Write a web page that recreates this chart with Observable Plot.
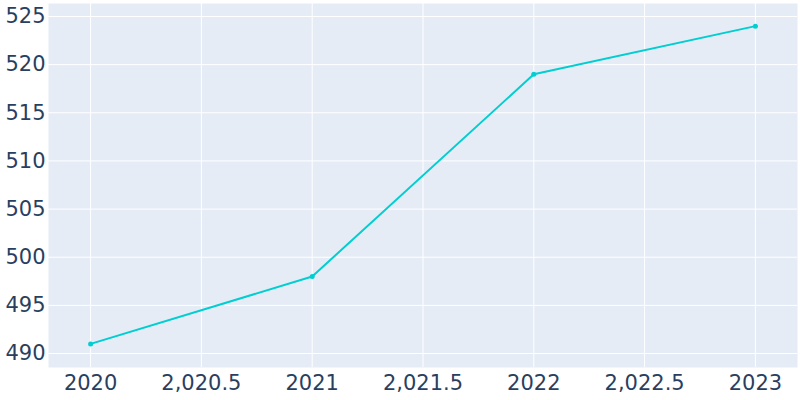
<!DOCTYPE html>
<html>
<head>
<meta charset="utf-8">
<script src="https://cdn.jsdelivr.net/npm/d3@7"></script>
<script src="https://cdn.jsdelivr.net/npm/@observablehq/plot@0.6"></script>
<style>
  html, body { margin: 0; padding: 0; background: #fff; }
  #chart svg { display: block; }
</style>
</head>
<body>
<div id="chart"></div>
<script>
const years = [2020, 2021, 2022, 2023];
const values = [491, 498, 519, 524];
const xTicks = [2020, 2020.5, 2021, 2021.5, 2022, 2022.5, 2023];
const xTickLabels = ["2020", "2,020.5", "2021", "2,021.5", "2022", "2,022.5", "2023"];
const yTicks = [490, 495, 500, 505, 510, 515, 520, 525];

const data = years.map((y, i) => ({year: y, value: values[i]}));
const xLabelMap = new Map(xTicks.map((t, i) => [t, xTickLabels[i]]));

const chart = Plot.plot({
  width: 800,
  height: 400,
  marginLeft: 48,
  marginRight: 3,
  marginTop: 3,
  marginBottom: 33,
  style: {fontFamily: "DejaVu Sans", fontSize: "18px", color: "#2a3f5f", background: "#fff"},
  x: {domain: [2019.81, 2023.19], ticks: xTicks, tickFormat: d => xLabelMap.get(d), label: null},
  y: {domain: [488.55, 526.35], ticks: yTicks, label: null},
  marks: [
    Plot.frame({fill: "#E5ECF6", stroke: null}),
    Plot.gridX(xTicks, {stroke: "#fff", strokeOpacity: 1, strokeWidth: 1}),
    Plot.gridY(yTicks, {stroke: "#fff", strokeOpacity: 1, strokeWidth: 1}),
    Plot.axisX(xTicks, {tickSize: 0, tickPadding: 8, fontSize: 21, fill: "#2a3f5f", tickFormat: d => xLabelMap.get(d)}),
    Plot.axisY(yTicks, {tickSize: 0, tickPadding: 3, fontSize: 21, fill: "#2a3f5f"}),
    Plot.line(data, {x: "year", y: "value", stroke: "#00CED1", strokeWidth: 2}),
    Plot.dot(data, {x: "year", y: "value", fill: "#00CED1", r: 2.5, stroke: null})
  ]
});
document.getElementById("chart").appendChild(chart);
</script>
</body>
</html>
